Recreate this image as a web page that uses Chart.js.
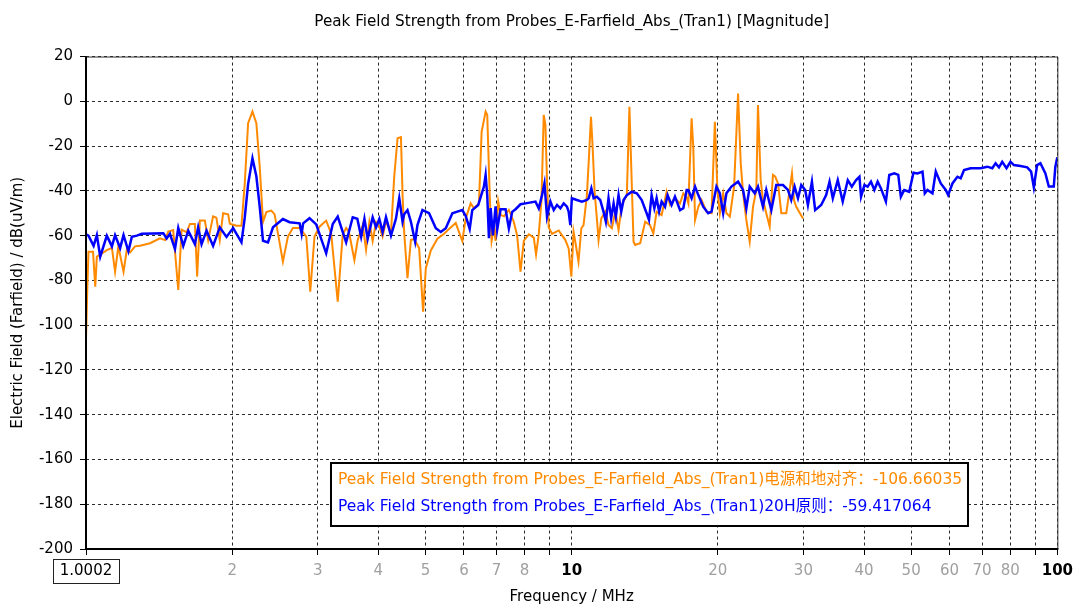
<!DOCTYPE html>
<html>
<head>
<meta charset="utf-8">
<script src="https://cdn.jsdelivr.net/npm/chart.js@4.4.0/dist/chart.umd.min.js"></script>
<style>
  body { margin: 0; background: #fff; }
  #chart { display: block; }
</style>
</head>
<body>
<canvas id="chart" width="1080" height="609"></canvas>
<script>
// values (MHz, dB(uV/m))
const orangeFreq = [1.0002, 1.006, 1.012, 1.034, 1.045, 1.053, 1.079, 1.104, 1.131, 1.148, 1.166, 1.195, 1.214, 1.233, 1.262, 1.292, 1.355, 1.42, 1.455, 1.477,
  1.512, 1.549, 1.574, 1.612, 1.637, 1.676, 1.694, 1.716, 1.757, 1.785, 1.827, 1.856, 1.886, 1.916, 1.962, 1.978, 2.041, 2.09, 2.123, 2.157,
  2.202, 2.243, 2.279, 2.315, 2.352, 2.408, 2.446, 2.544, 2.605, 2.667, 2.754, 2.842, 2.896, 2.955, 3.026, 3.123, 3.198, 3.299, 3.378, 3.433,
  3.48, 3.57, 3.627, 3.714, 3.773, 3.833, 3.893, 3.956, 4.018, 4.081, 4.147, 4.246, 4.312, 4.381, 4.452, 4.486, 4.521, 4.592, 4.667, 4.74,
  4.853, 4.945, 5.009, 5.129, 5.292, 5.462, 5.593, 5.772, 5.955, 6.052, 6.196, 6.293, 6.444, 6.526, 6.651, 6.702, 6.778, 6.842, 6.917, 6.973,
  7.06, 7.14, 7.253, 7.425, 7.603, 7.722, 7.847, 7.971, 8.162, 8.356, 8.447, 8.556, 8.666, 8.76, 8.83, 8.898, 8.97, 9.112, 9.404, 9.707,
  9.859, 9.986, 10.09, 10.2, 10.33, 10.47, 10.58, 10.75, 10.87, 10.96, 11.04, 11.15, 11.27, 11.36, 11.51, 11.73, 11.91, 12.1, 12.3, 12.49,
  12.68, 12.99, 13.15, 13.3, 13.41, 13.51, 13.84, 14.17, 14.5, 14.73, 14.96, 15.32, 15.69, 15.94, 16.32, 16.72, 16.98, 17.25, 17.39, 17.66,
  17.8, 17.95, 18.23, 18.51, 18.95, 19.41, 19.72, 19.96, 20.19, 20.51, 20.83, 21.17, 21.6, 22.01, 22.29, 22.54, 22.89, 23.26, 23.63, 24.0,
  24.19, 24.5, 24.77, 25.16, 25.57, 25.97, 26.26, 26.6, 27.02, 27.66, 28.11, 28.42, 28.69, 29.0, 29.94];
const orangeDb = [-106.66, -85, -67.2, -67.2, -82.8, -69.4, -68, -66.5, -65.5, -76.1, -64.8, -76.1, -66.2, -67.5, -64.8, -64.5, -63.4, -61.2, -62, -58.2,
  -57.5, -84.3, -57.3, -58.5, -54.8, -54.8, -78.3, -53.3, -53.3, -62, -51.4, -52, -62, -50, -50.5, -54.7, -55.6, -55.6, -36.7, -9.8,
  -4.6, -9.8, -29.2, -53.9, -49.5, -48.8, -50.5, -71.6, -60.4, -56.6, -56.6, -60.4, -85, -60.4, -56, -53.3, -59, -89.5, -59.5, -56.6,
  -58.5, -70.9, -62, -55.3, -66.3, -54, -62.4, -54, -56, -60.4, -53.5, -59, -33.7, -16.5, -16, -41.9, -58.7, -79, -62, -61.5,
  -65.7, -94, -74.6, -66.6, -61.4, -59.2, -57, -54.4, -62.4, -52.3, -45.6, -47.8, -45.6, -13.6, -4.6, -6, -40.4, -62.4, -56.5, -62.4,
  -44.8, -50.7, -51.4, -48.5, -53.9, -59.9, -76.1, -62.3, -59.4, -60.9, -68.4, -59.4, -44.5, -6.1, -10.5, -35.5, -56.3, -59.2, -57.7, -62,
  -65.7, -78.3, -58.2, -64.2, -71.6, -56.7, -55.3, -41.9, -22.5, -6.9, -19.5, -40.4, -52.3, -62, -52.3, -49.3, -55.3, -56.7, -49.3, -57.5,
  -46.3, -41.9, -2.4, -37.4, -62.7, -64.2, -63.4, -53.8, -55.3, -59, -49.3, -50.8, -40.4, -46.3, -43.3, -45.6, -41.1, -43, -45.6, -7.6,
  -20.3, -53, -47.1, -44.1, -49.3, -50, -9.1, -39.6, -50, -41.1, -50, -51.5, -38.1, 3.5, -27.7, -41.1, -53, -62.7, -47.1, -39.6,
  -1.7, -35.2, -44.1, -50, -56, -32.9, -33.7, -36.7, -50, -50, -39.6, -32.2, -44.1, -47.1, -52.3];

const blueFreq = [1.0002, 1.012, 1.037, 1.053, 1.07, 1.104, 1.131, 1.148, 1.176, 1.195, 1.223, 1.243, 1.273, 1.303, 1.443, 1.466, 1.489, 1.525, 1.549, 1.586,
  1.624, 1.676, 1.702, 1.73, 1.771, 1.827, 1.886, 1.947, 2.009, 2.09, 2.123, 2.157, 2.202, 2.243, 2.279, 2.315, 2.37, 2.427, 2.544, 2.626,
  2.754, 2.78, 2.8, 2.886, 2.979, 3.123, 3.222, 3.299, 3.433, 3.542, 3.62, 3.686, 3.744, 3.802, 3.893, 3.956, 4.018, 4.081, 4.147, 4.246,
  4.347, 4.416, 4.486, 4.521, 4.592, 4.667, 4.762, 4.814, 4.93, 5.087, 5.252, 5.377, 5.506, 5.681, 5.816, 5.955, 6.052, 6.167, 6.243, 6.422,
  6.597, 6.651, 6.702, 6.756, 6.811, 6.885, 6.973, 7.026, 7.14, 7.311, 7.425, 7.543, 7.665, 7.847, 8.035, 8.424, 8.556, 8.69, 8.79, 8.898,
  9.043, 9.186, 9.329, 9.48, 9.63, 9.781, 9.859, 9.938, 10.01, 10.25, 10.5, 10.75, 10.84, 10.98, 11.1, 11.27, 11.45, 11.63, 11.76, 11.91,
  12.06, 12.2, 12.33, 12.49, 12.65, 12.79, 12.99, 13.3, 13.62, 13.94, 14.27, 14.43, 14.61, 14.8, 14.96, 15.14, 15.32, 15.57, 15.76, 16.06,
  16.32, 16.72, 16.98, 17.25, 17.39, 17.66, 17.95, 18.23, 18.66, 19.1, 19.41, 19.87, 20.19, 20.51, 20.83, 21.33, 22.01, 22.54, 22.89, 23.26,
  23.82, 24.19, 24.77, 25.16, 25.77, 26.38, 27.24, 27.88, 28.32, 28.78, 29.24, 29.7, 30.26, 30.65, 31.24, 31.72, 32.64, 33.42, 33.96, 34.49,
  35.31, 36.15, 37.03, 37.74, 38.51, 39.13, 39.43, 40.07, 40.69, 41.33, 42.0, 42.66, 43.34, 44.36, 45.08, 46.16, 47.04, 47.62, 48.39, 49.55,
  50.56, 51.53, 52.77, 53.34, 54.03, 55.32, 56.2, 57.54, 58.92, 59.59, 60.81, 62.27, 63.24, 64.26, 66.3, 69.5, 71.74, 73.45, 74.61, 75.82,
  77.0, 78.58, 80.08, 81.38, 83.98, 86.68, 88.31, 89.45, 90.85, 92.29, 94.5, 96.04, 98.32, 99.06, 100];
const blueDb = [-59.42, -60, -64.6, -59.8, -69.4, -60, -64.8, -59.8, -65.5, -59.8, -67, -60.5, -60, -59.2, -58.9, -61.3, -59.2, -66, -56.6, -64.6,
  -57.8, -63.8, -56.3, -63.8, -57.8, -64.6, -56.3, -60.6, -56.6, -63, -52, -37, -25.5, -33.5, -47, -62.3, -63, -56.3, -52.6, -54,
  -54.5, -59.2, -54.5, -52.2, -55, -67.9, -54.8, -51.5, -63, -51.8, -52.5, -60.5, -52.5, -61.4, -51.8, -56.3, -52.5, -58.4, -51.8, -60,
  -52.5, -43.3, -53.8, -50.5, -48.6, -53.8, -62.7, -55.3, -48.6, -50, -56.7, -58.4, -56.7, -50, -49.3, -48.6, -51.2, -57, -48.6, -46.3,
  -38.1, -32.9, -42, -61.2, -47.7, -59.9, -46.9, -57.3, -48.2, -48.2, -56.8, -49.4, -48.2, -46, -45.6, -44.8, -47.8, -41.9, -36.7, -51.5,
  -44.8, -48.6, -46.3, -47.8, -45.6, -47.1, -49.3, -55.3, -43.3, -44.1, -44.8, -44.1, -43.3, -38.9, -43.3, -42.6, -44.1, -49.3, -53.8, -43.3,
  -52.3, -45.6, -51.5, -41.9, -49.3, -44.1, -41.9, -40.4, -41.1, -44.1, -50, -53, -41.9, -47.8, -43.3, -49.3, -44.8, -47.1, -41.9, -46.3,
  -42.6, -48.6, -47.8, -39.6, -39.6, -43.3, -38.1, -41.9, -47.1, -50, -49.3, -38.1, -41.1, -50, -41.1, -38.1, -35.9, -39.6, -47.8, -38.1,
  -41.1, -38.1, -47.1, -39.6, -48.6, -37.4, -37.4, -39.6, -44.1, -38.1, -43.3, -37.4, -39.6, -46.3, -35.9, -48.6, -46.3, -41.9, -35.9, -43.3,
  -35.2, -44.8, -35.2, -38.1, -35.2, -33.7, -42.6, -37.4, -38.1, -35.9, -39.6, -35.9, -38.9, -44.8, -32.9, -32.2, -32.9, -42.6, -39.6, -40.4,
  -31.9, -32.2, -31.4, -41.1, -39.6, -41.1, -31.4, -36.7, -39.6, -41.9, -36.7, -33.7, -34.4, -30.7, -29.9, -29.9, -29.2, -29.9, -27.7, -29.5,
  -27, -29.9, -27, -28.5, -28.9, -29.5, -31.4, -38.4, -28.5, -27.7, -32.2, -38.1, -38.1, -29.2, -25];

const xTickValues = [1.0002, 2, 3, 4, 5, 6, 7, 8, 9, 10, 20, 30, 40, 50, 60, 70, 80, 90, 100];
const xTickLabels = ['1.0002', '2', '3', '4', '5', '6', '7', '8', '', '10', '20', '30', '40', '50', '60', '70', '80', '', '100'];
const xMajor = [1.0002, 10, 100];

const titleText = 'Peak Field Strength from Probes_E-Farfield_Abs_(Tran1) [Magnitude]';
const legendLabels = [
  'Peak Field Strength from Probes_E-Farfield_Abs_(Tran1)电源和地对齐：-106.66035',
  'Peak Field Strength from Probes_E-Farfield_Abs_(Tran1)20H原则：-59.417064'
];

const FONT = "'DejaVu Sans', 'Noto Sans CJK SC', sans-serif";
const ORANGE = '#ff8a00';
const BLUE = '#0000ff';

function toPoints(xs, ys) {
  return xs.map((x, i) => ({ x: x, y: ys[i] }));
}

// frame, boxed first tick label and the legend box
const extras = {
  id: 'extras',
  afterDraw(chart) {
    const ctx = chart.ctx;
    const a = chart.chartArea;
    const xs = chart.scales.x;
    ctx.save();
    ctx.strokeStyle = '#333';
    ctx.lineWidth = 1;
    ctx.beginPath();
    ctx.moveTo(a.left, a.top + 0.5);
    ctx.lineTo(a.right + 0.5, a.top + 0.5);
    ctx.lineTo(a.right + 0.5, a.bottom);
    ctx.stroke();
    ctx.strokeStyle = '#000';
    ctx.lineWidth = 2;
    ctx.beginPath();
    ctx.moveTo(a.left, a.top);
    ctx.lineTo(a.left, a.bottom);
    ctx.lineTo(a.right + 1, a.bottom);
    ctx.stroke();

    // box round the first frequency label
    ctx.font = '15px ' + FONT;
    const w = ctx.measureText(xTickLabels[0]).width + 14;
    const cx = xs.getPixelForValue(xTickValues[0]);
    ctx.lineWidth = 1;
    ctx.strokeStyle = '#222';
    ctx.strokeRect(Math.round(cx - w / 2) + 0.5, a.bottom + 10.5, Math.round(w), 24);

    // legend
    const lx = 331, ly = 463, lw = 637, lh = 63;
    ctx.fillStyle = '#fff';
    ctx.fillRect(lx, ly, lw, lh);
    ctx.lineWidth = 2;
    ctx.strokeStyle = '#000';
    ctx.strokeRect(lx, ly, lw, lh);
    ctx.font = '15.5px ' + FONT;
    ctx.textBaseline = 'middle';
    ctx.textAlign = 'left';
    const colors = [ORANGE, BLUE];
    legendLabels.forEach((t, i) => {
      ctx.fillStyle = colors[i];
      ctx.fillText(t, lx + 7, ly + 17 + i * 27);
    });
    ctx.restore();
  }
};

new Chart(document.getElementById('chart'), {
  type: 'line',
  data: {
    datasets: [
      {
        label: legendLabels[0],
        data: toPoints(orangeFreq, orangeDb),
        borderColor: ORANGE,
        borderWidth: 2,
        pointRadius: 0,
        tension: 0,
        order: 1
      },
      {
        label: legendLabels[1],
        data: toPoints(blueFreq, blueDb),
        borderColor: BLUE,
        borderWidth: 2.5,
        pointRadius: 0,
        tension: 0,
        order: 0
      }
    ]
  },
  options: {
    responsive: false,
    animation: false,
    devicePixelRatio: 1,
    layout: { padding: { left: 0, right: 20, top: 0, bottom: 0 } },
    plugins: {
      legend: { display: false },
      tooltip: { enabled: false },
      title: {
        display: true,
        text: titleText,
        fullSize: false,
        color: '#000',
        font: { family: FONT, size: 15.2, weight: 'normal', lineHeight: 1.2 },
        padding: { top: 13, bottom: 25.3 }
      }
    },
    scales: {
      x: {
        type: 'logarithmic',
        min: 1.0002,
        max: 100,
        afterBuildTicks: (scale) => {
          scale.ticks = xTickValues.map(v => ({ value: v }));
        },
        afterFit: (scale) => { scale.height = 60; },
        ticks: {
          autoSkip: false,
          maxRotation: 0,
          padding: 7,
          callback: (value, index) => xTickLabels[index],
          color: (c) => xMajor.includes(c.tick && c.tick.value) ? '#000' : '#a0a0a0',
          font: (c) => ({
            family: FONT,
            size: 15,
            weight: (c.tick && (c.tick.value === 10 || c.tick.value === 100)) ? 'bold' : 'normal'
          })
        },
        grid: { color: '#2a2a2a', lineWidth: 1, tickLength: 6, tickColor: '#000' },
        border: { display: false, dash: [3, 3] },
        title: {
          display: true,
          text: 'Frequency / MHz',
          color: '#000',
          font: { family: FONT, size: 15 },
          padding: { top: 0, bottom: 3 }
        }
      },
      y: {
        min: -200,
        max: 20,
        afterFit: (scale) => { scale.width = 86; },
        ticks: {
          stepSize: 20,
          padding: 7,
          color: '#000',
          font: { family: FONT, size: 15 }
        },
        grid: { color: '#2a2a2a', lineWidth: 1, tickLength: 6, tickColor: '#000' },
        border: { display: false, dash: [3, 3] },
        title: {
          display: true,
          text: 'Electric Field (Farfield) / dB(uV/m)',
          color: '#000',
          font: { family: FONT, size: 15 },
          padding: { top: 9, bottom: 0 }
        }
      }
    }
  },
  plugins: [extras]
});
</script>
</body>
</html>
